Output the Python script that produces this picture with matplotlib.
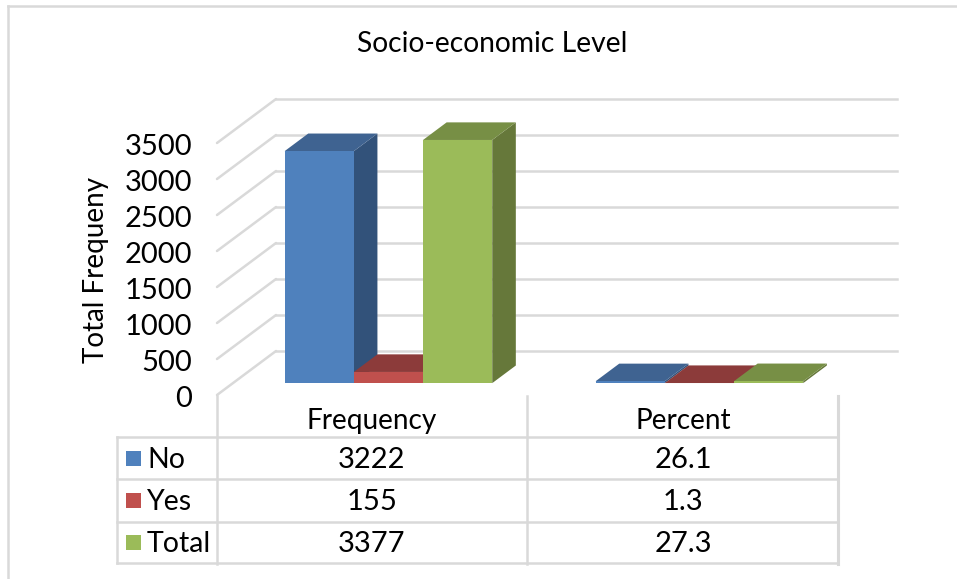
import matplotlib
matplotlib.use('Agg')
import matplotlib.pyplot as plt
from matplotlib.patches import Polygon, Rectangle
from matplotlib.transforms import ScaledTranslation

W, H = 957, 579

categories = ['Frequency', 'Percent']
series_names = ['No', 'Yes', 'Total']
no_values = [3222, 26.1]
yes_values = [155, 1.3]
total_values = [3377, 27.3]
value_ticks = [0, 500, 1000, 1500, 2000, 2500, 3000, 3500]

front_colors = ['#4f81bd', '#c0504d', '#9bbb59']
side_colors = ['#32527a', '#7d3533', '#66783a']
top_colors = ['#3f6391', '#8c3b3a', '#778f45']
grid_color = '#d9d9d9'

plt.rcParams['font.family'] = ['Lato', 'DejaVu Sans']

fig = plt.figure(figsize=(W / 100, H / 100), dpi=100, facecolor='white')

# overlay in pixel units for the frame and the data table
fx = fig.add_axes([0, 0, 1, 1])
fx.set_xlim(0, W)
fx.set_ylim(H, 0)
fx.axis('off')

# plot axes: its left edge is the front plane of the 3d box
ax = fig.add_axes([217 / W, (H - 395) / H, (898 - 217) / W, (395 - 99) / H])
ax.set_xlim(-0.5, -0.5 + (898 - 217) / 311)
ax.set_ylim(0, (395 - 99) / 0.072)
ax.patch.set_visible(False)
for s in ax.spines.values():
    s.set_visible(False)
ax.set_xticks([])
ax.set_yticks(value_ticks)
ax.tick_params(axis='y', length=0, pad=18, labelsize=21)
# numerals sit a little low against their gridlines
for lab in ax.get_yticklabels():
    lab.set_transform(lab.get_transform() + ScaledTranslation(0, -1.5 / 100, fig.dpi_scale_trans))
ax.set_ylabel('Total Frequeny', fontsize=20)
ax.yaxis.set_label_coords((109 - 217) / (898 - 217), (395 - 270) / (395 - 99))

# shift of the back wall against the front plane
DX = 59 / 311
DY = 44 / 0.072


def proj(x, v, d):
    return x + d * DX, v + d * DY


# walls: diagonal gridlines on the side, horizontal ones at the back
right_end = ax.get_xlim()[1] - DX - 1.5 / 311
for v in value_ticks:
    ax.plot(*zip(proj(-0.5, v, 0), proj(-0.5, v, 1)), color=grid_color, lw=1.8,
            clip_on=False, solid_capstyle='round', zorder=1)
    ax.plot(*zip(proj(-0.5, v, 1), proj(right_end, v, 1)), color=grid_color, lw=1.8,
            clip_on=False, zorder=1)

BAR_W = 0.2225
D0, D1 = 0.27, 0.67


def draw_bar(x, v, k, z):
    l, r = x - BAR_W / 2, x + BAR_W / 2
    side = [proj(r, 0, D0), proj(r, 0, D1), proj(r, v, D1), proj(r, v, D0)]
    top = [proj(l, v, D0), proj(r, v, D0), proj(r, v, D1), proj(l, v, D1)]
    front = [proj(l, 0, D0), proj(r, 0, D0), proj(r, v, D0), proj(l, v, D0)]
    ax.add_patch(Polygon(side, fc=side_colors[k], ec='none', zorder=z, clip_on=False))
    ax.add_patch(Polygon(top, fc=top_colors[k], ec='none', zorder=z, clip_on=False))
    ax.add_patch(Polygon(front, fc=front_colors[k], ec='none', zorder=z, clip_on=False))


# left to right so each bar covers the side face of the one before
all_values = [no_values, yes_values, total_values]
for i in range(len(categories)):
    for k, vals in enumerate(all_values):
        draw_bar(i + (k - 1) * BAR_W, vals[i], k, 3 + k)

fx.text(492, 44, 'Socio-economic Level', ha='center', va='center', fontsize=20.3)

# frame
fx.plot([8, 8], [H, 6], color=grid_color, lw=1.8)
fx.plot([8, W], [6, 6], color=grid_color, lw=1.8)

# data table
row_y = [437, 479, 522, 563]
col_x = [217, 527, 838]
for y in row_y:
    fx.plot([117, 838], [y, y], color=grid_color, lw=1.8)
fx.plot([117, 117], [437, 563], color=grid_color, lw=1.8)
for x in col_x:
    fx.plot([x, x], [396, 564], color=grid_color, lw=2.2 if x == 838 else 1.8)

centres = [372, 683]
for c, name in zip(centres, categories):
    fx.text(c, 421, name, ha='center', va='center', fontsize=20.2)

table_rows = [[str(v) for v in vals] for vals in all_values]
for r, name in enumerate(series_names):
    yc = (row_y[r] + row_y[r + 1]) / 2
    fx.add_patch(Rectangle((126, yc - 7.5), 15, 15, fc=front_colors[r], ec='none'))
    fx.text(147, yc + 1.5, name, ha='left', va='center', fontsize=20.5)
    for c, t in zip(centres, table_rows[r]):
        fx.text(c, yc + 1.5, t, ha='center', va='center', fontsize=21)

fig.savefig('out.png', dpi=100)
